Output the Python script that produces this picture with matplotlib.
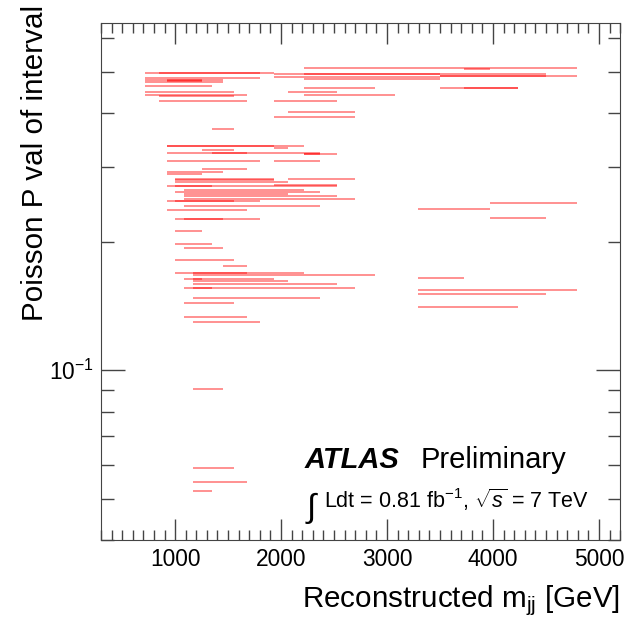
import matplotlib
matplotlib.use('Agg')
import matplotlib.pyplot as plt
from matplotlib.ticker import LogLocator, NullFormatter, MultipleLocator, FixedLocator

plt.rcParams['font.family'] = ['Liberation Sans', 'DejaVu Sans']
plt.rcParams['mathtext.fontset'] = 'custom'
plt.rcParams['mathtext.rm'] = 'Liberation Sans'
plt.rcParams['mathtext.it'] = 'Liberation Sans:italic'
plt.rcParams['mathtext.bf'] = 'Liberation Sans:bold'

# Poisson p-value of each interval and its mass range [GeV]
p_upper = [0.510, 0.509, 0.497, 0.497, 0.496, 0.494, 0.490, 0.489, 0.486, 0.484,
           0.483, 0.480, 0.478, 0.477, 0.475, 0.464, 0.460, 0.460, 0.459, 0.450,
           0.448, 0.442, 0.441, 0.440, 0.427, 0.427, 0.403, 0.393, 0.368]
lo_upper = [2213, 3727, 720, 852, 1930, 2213, 3500, 3500, 1930, 720,
            2213, 720, 925, 925, 720, 720, 2213, 3500, 3727, 720,
            2068, 2213, 720, 852, 852, 1930, 2068, 1930, 1349]
hi_upper = [4796, 3973, 1930, 1801, 4504, 3500, 4796, 4504, 3500, 1801,
            3500, 1450, 1255, 1255, 1450, 1349, 2885, 4233, 4233, 1559,
            2527, 3077, 1679, 1559, 1679, 2527, 2700, 2700, 1559]

p_middle = [0.336, 0.335, 0.335, 0.332, 0.329, 0.323, 0.323, 0.322, 0.321, 0.309,
            0.309, 0.296, 0.292, 0.289, 0.281, 0.281, 0.279, 0.277, 0.276, 0.272,
            0.271, 0.270, 0.265, 0.262, 0.259, 0.256, 0.252, 0.250, 0.249, 0.247,
            0.243, 0.239, 0.238, 0.227, 0.226, 0.226]
lo_middle = [925, 925, 1930, 1930, 1255, 925, 1349, 2213, 2213, 925,
             1930, 1255, 925, 925, 1000, 2068, 1000, 1930, 1000, 1930,
             925, 1000, 1082, 1000, 1082, 1082, 1082, 925, 1000, 3973,
             1082, 3288, 925, 3973, 1000, 1082]
hi_middle = [1930, 1930, 2213, 2068, 1559, 2367, 1679, 2527, 2367, 1801,
             2367, 1679, 1450, 1255, 1930, 2700, 1930, 2068, 1930, 2527,
             2527, 1349, 2213, 2367, 2068, 2527, 2700, 1801, 1559, 4796,
             2367, 3973, 1679, 4504, 1801, 1450]

p_lower = [0.212, 0.198, 0.194, 0.181, 0.176, 0.169, 0.169, 0.167, 0.1645, 0.164,
           0.164, 0.162, 0.159, 0.156, 0.156, 0.1545, 0.151, 0.148, 0.144, 0.141,
           0.133, 0.130, 0.0904, 0.0591, 0.0546, 0.0521]
lo_lower = [1000, 1000, 1082, 1000, 1450, 1000, 1167, 1167, 3288, 1082,
            1167, 1167, 1167, 1082, 1167, 3288, 3288, 1167, 1082, 3288,
            1082, 1167, 1167, 1167, 1167, 1167]
hi_lower = [1255, 1349, 1450, 1559, 1679, 2213, 1679, 2885, 3727, 1930,
            1255, 2068, 2527, 2700, 1349, 4796, 4504, 2367, 1559, 4233,
            1679, 1801, 1450, 1559, 1679, 1349]

fig = plt.figure(figsize=(6.27, 6.21), dpi=100)
ax = fig.add_axes([0.161, 0.1304, 0.828, 0.8326])

for p, lo, hi in [(p_upper, lo_upper, hi_upper),
                  (p_middle, lo_middle, hi_middle),
                  (p_lower, lo_lower, hi_lower)]:
    ax.hlines(p, lo, hi, colors='red', alpha=0.55, lw=1.1)

ax.set_yscale('log')
ax.set_xlim(300, 5200)
ax.set_ylim(0.04, 0.652)

ax.xaxis.set_major_locator(MultipleLocator(1000))
ax.xaxis.set_minor_locator(MultipleLocator(100))
ax.yaxis.set_major_locator(FixedLocator([0.1]))
ax.yaxis.set_minor_locator(LogLocator(base=10, subs=range(2, 10)))
ax.yaxis.set_minor_formatter(NullFormatter())
ax.set_yticklabels([r'$10^{-1}$'])

ax.tick_params(which='both', direction='in', top=True, right=True,
               labelsize=16.4, width=1, color='#444444')
ax.tick_params(axis='x', which='major', length=15, pad=6)
ax.tick_params(axis='x', which='minor', length=7)
ax.tick_params(axis='y', which='major', length=17, pad=5)
ax.tick_params(axis='y', which='minor', length=9)
for s in ax.spines.values():
    s.set_color('#444444')

ax.set_xlabel(r'Reconstructed m$_{\mathrm{jj}}$ [GeV]', fontsize=21.3,
              loc='right', labelpad=9)
ax.set_ylabel('Poisson P val of interval', fontsize=21.3, loc='top')
ax.yaxis.set_label_coords(-0.1, 1.035)

ax.text(0.393, 0.139, 'ATLAS', transform=ax.transAxes, fontsize=21,
        fontweight='bold', fontstyle='italic')
ax.text(0.615, 0.139, 'Preliminary', transform=ax.transAxes, fontsize=21)
ax.text(0.393, 0.045, r'$\int$', transform=ax.transAxes, fontsize=24)
ax.text(0.43, 0.062, r'Ldt = 0.81 fb$^{-1}$, $\sqrt{s}$ = 7 TeV',
        transform=ax.transAxes, fontsize=15.5)

fig.savefig('out.png', dpi=100)
